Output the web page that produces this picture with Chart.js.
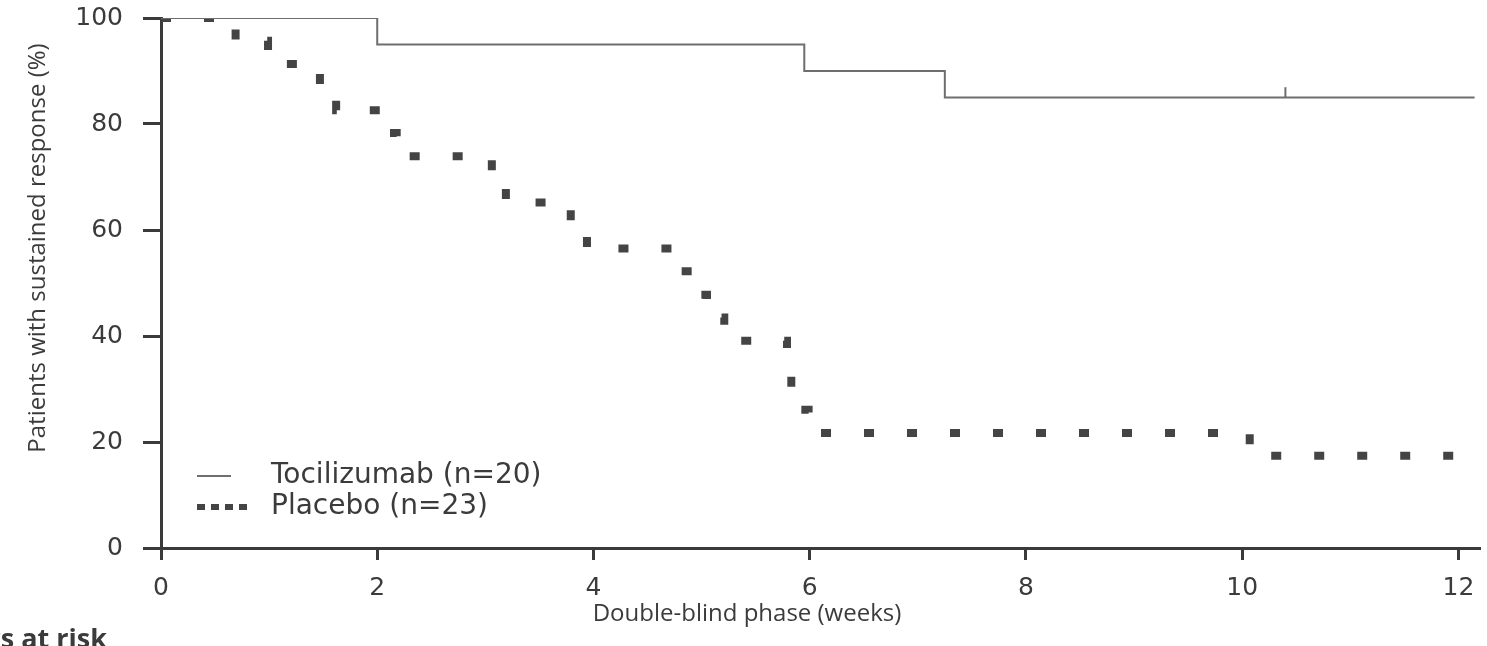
<!DOCTYPE html>
<html>
<head>
<meta charset="utf-8">
<script src="https://cdn.jsdelivr.net/npm/chart.js@4.4.0/dist/chart.umd.min.js"></script>
<style>
html, body { margin: 0; padding: 0; background: #fff; }
#kmChart { display: block; }
</style>
</head>
<body>
<canvas id="kmChart" width="1487" height="646"></canvas>
<script>
// axis ticks
const xTicks = [0, 2, 4, 6, 8, 10, 12];
const yTicks = [0, 20, 40, 60, 80, 100];

// Tocilizumab (n=20) - weeks of each step and % after the step
const tociWeeks = [0, 2.0, 5.95, 7.25, 12.15];
const tociPct = [100, 95, 90, 85, 85];
const tociCensorWeeks = [10.4];
const tociCensorPct = [86];

// Placebo (n=23)
const placeboWeeks = [0, 0.69, 0.99, 1.47, 1.62, 2.04, 2.18, 3.06, 3.19, 3.79, 3.94,
                      4.79, 4.91, 5.05, 5.21, 5.79, 5.83, 5.90, 5.99, 10.07, 12.15];
const placeboPct = [100, 95.7, 91.3, 87.0, 82.6, 78.3, 73.9, 69.6, 65.2, 60.9, 56.5,
                    52.2, 47.8, 43.5, 39.1, 34.8, 30.4, 26.1, 21.7, 17.4, 17.4];

const xTitle = 'Double-blind phase (weeks)';
const yTitle = 'Patients with sustained response (%)';
const riskText = 'Numbers at risk';

const FONT = "'Open Sans', 'DejaVu Sans', sans-serif";
const WIDE = "'DejaVu Sans', sans-serif";
const INK = '#3b3b3b';
const AXIS = '#3a3a3a';

function toPoints(xs, ys) {
    return xs.map((x, i) => ({x: x, y: ys[i]}));
}

// keep the plot box where the reference has it
function noPadding(s) {
    s.paddingTop = 0;
    s.paddingBottom = 0;
    s.paddingLeft = 0;
    s.paddingRight = 0;
}

// legend, axis titles and the cut "at risk" line are drawn here
const extras = {
    id: 'extras',
    afterDraw(chart) {
        const ctx = chart.ctx;
        const ds = chart.data.datasets;
        ctx.save();
        ctx.fillStyle = INK;

        // y title
        ctx.font = '24px ' + FONT;
        ctx.textAlign = 'center';
        ctx.textBaseline = 'middle';
        ctx.save();
        ctx.translate(38, 248);
        ctx.rotate(-Math.PI / 2);
        ctx.fillText(yTitle, 0, 0);
        ctx.restore();

        // x title
        ctx.fillText(xTitle, 747, 614);

        // legend
        ctx.textAlign = 'left';
        ctx.font = '28px ' + WIDE;
        ctx.strokeStyle = ds[0].borderColor;
        ctx.lineWidth = 2;
        ctx.beginPath();
        ctx.moveTo(197, 476);
        ctx.lineTo(231, 476);
        ctx.stroke();
        ctx.fillText(ds[0].label, 271, 476);

        ctx.strokeStyle = ds[1].borderColor;
        ctx.lineWidth = 6;
        ctx.setLineDash([8, 6]);
        ctx.beginPath();
        ctx.moveTo(197, 507);
        ctx.lineTo(253, 507);
        ctx.stroke();
        ctx.setLineDash([]);
        ctx.fillText(ds[1].label, 271, 507);

        // bottom left, cut by the picture edge
        ctx.font = 'bold 27px ' + FONT;
        ctx.textAlign = 'right';
        ctx.textBaseline = 'alphabetic';
        ctx.fillText(riskText, 107, 648);
        ctx.restore();
    }
};

const config = {
    type: 'line',
    data: {
        datasets: [{
            label: 'Tocilizumab (n=20)',
            data: toPoints(tociWeeks, tociPct),
            borderColor: '#6e6e6e',
            borderWidth: 2,
            stepped: 'before',
            pointRadius: 0,
            fill: false
        }, {
            label: 'Placebo (n=23)',
            data: toPoints(placeboWeeks, placeboPct),
            borderColor: '#444444',
            borderWidth: 8,
            borderDash: [10, 33],
            borderCapStyle: 'butt',
            borderJoinStyle: 'miter',
            stepped: 'before',
            pointRadius: 0,
            fill: false
        }, {
            label: 'censored',
            type: 'scatter',
            data: toPoints(tociCensorWeeks, tociCensorPct),
            pointStyle: 'line',
            rotation: 90,
            pointRadius: 5,
            borderColor: '#6e6e6e',
            borderWidth: 2,
            showLine: false
        }]
    },
    options: {
        responsive: false,
        animation: false,
        events: [],
        layout: {padding: {left: 0, top: 18, right: 2, bottom: 0}},
        plugins: {legend: {display: false}, tooltip: {enabled: false}},
        scales: {
            x: {
                type: 'linear',
                min: 0,
                max: 12.2,
                afterBuildTicks: (s) => { s.ticks = xTicks.map(v => ({value: v})); },
                afterFit: (s) => { s.height = 98; noPadding(s); },
                border: {display: true, color: AXIS, width: 3},
                grid: {drawOnChartArea: false, drawTicks: true, tickLength: 12, tickWidth: 3, tickColor: AXIS},
                ticks: {padding: 13, color: INK, font: {family: WIDE, size: 25}, maxRotation: 0}
            },
            y: {
                min: 0,
                max: 100,
                afterBuildTicks: (s) => { s.ticks = yTicks.map(v => ({value: v})); },
                afterFit: (s) => { s.width = 161; noPadding(s); },
                border: {display: true, color: AXIS, width: 3},
                grid: {drawOnChartArea: false, drawTicks: true, tickLength: 18, tickWidth: 3, tickColor: AXIS},
                ticks: {padding: 20, color: INK, font: {family: WIDE, size: 25}}
            }
        }
    },
    plugins: [extras]
};

var kmChart = new Chart(document.getElementById('kmChart'), config);
</script>
</body>
</html>
